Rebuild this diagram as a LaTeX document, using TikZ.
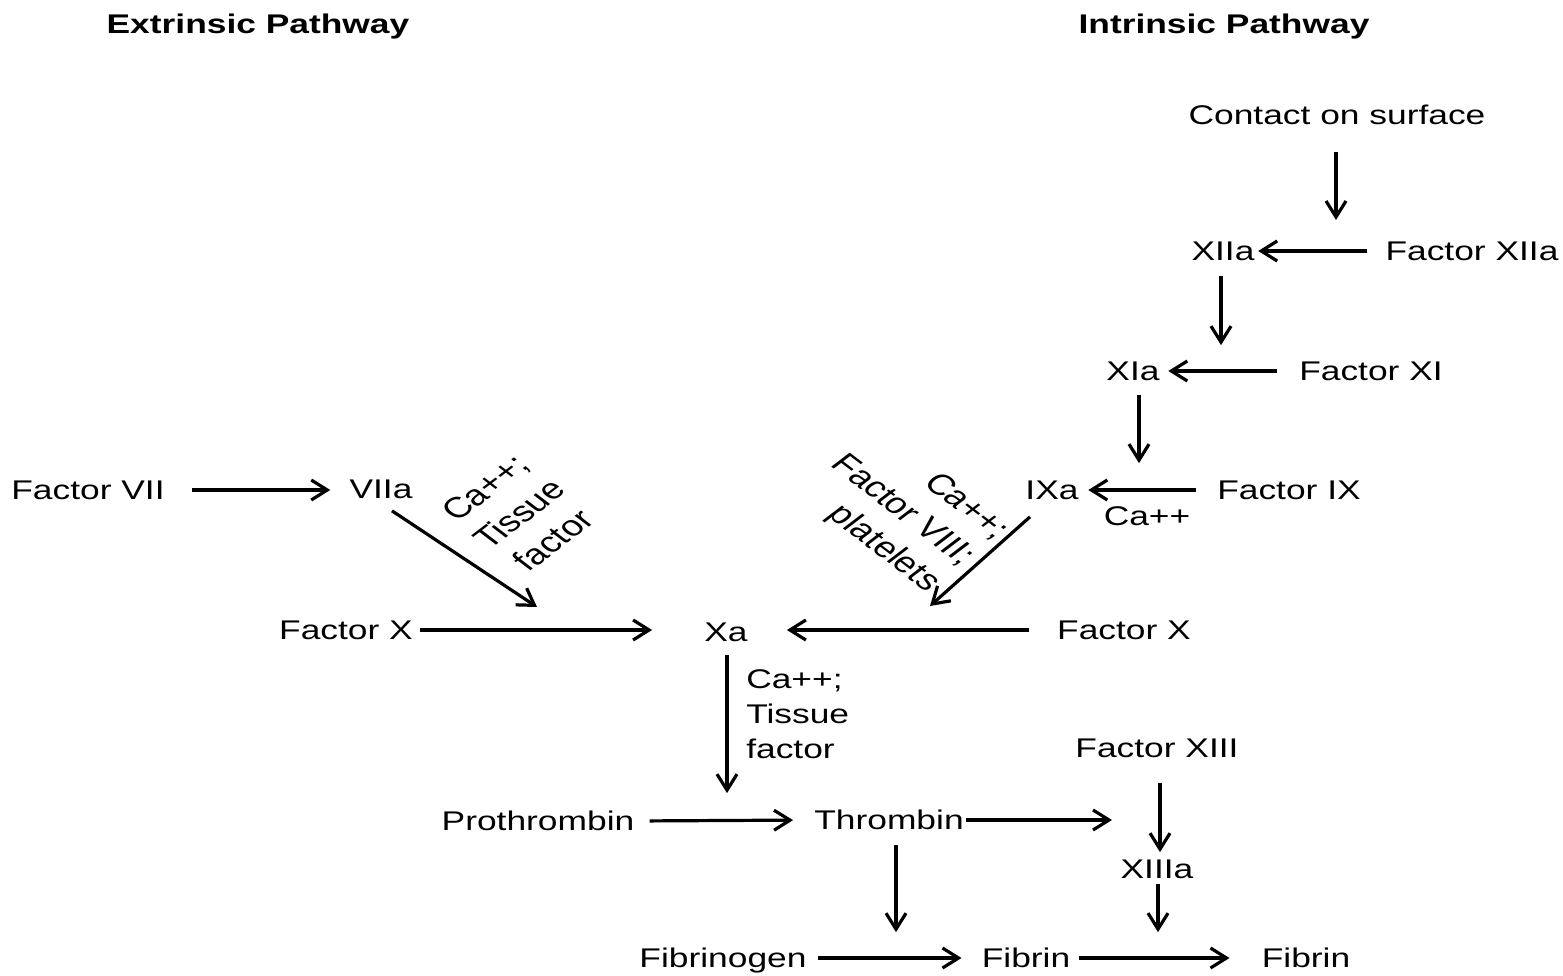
\documentclass[tikz,border=0pt]{standalone}
\usepackage{fontspec}
\setmainfont{Liberation Sans}
\usetikzlibrary{arrows.meta}
\begin{document}
\begin{tikzpicture}[x=1pt,y=-1pt,
  t/.style={font=\fontsize{27}{34}\selectfont, xscale=1.31, inner sep=0pt, text height=19.3pt, text depth=0pt},
  ml/.style={font=\fontsize{27}{35}\selectfont, xscale=1.31, inner sep=0pt},
  rl/.style={font=\fontsize{29}{37}\selectfont, xscale=1.31, inner sep=0pt},
  ttl/.style={t, font=\fontsize{27}{34}\selectfont\bfseries},
  arr/.style={line width=3.2pt, -{Straight Barb[length=16pt,width=20pt]}}]
\useasboundingbox (0,0) rectangle (1563,976);
% titles
\node[ttl] (ttlE) at (258,24) {Extrinsic Pathway};
\node[ttl] (ttlI) at (1224,24) {Intrinsic Pathway};
% intrinsic
\node[t] (contact) at (1337,115) {Contact on surface};
\node[t] (xiia) at (1223,251) {XIIa};
\node[t] (fxiia) at (1472,251) {Factor XIIa};
\node[t] (xia) at (1133,371) {XIa};
\node[t] (fxi) at (1371,371) {Factor XI};
\node[t] (ixa) at (1052,490) {IXa};
\node[t] (fix) at (1289,490) {Factor IX};
\node[t] (ca1) at (1147,516) {Ca++};
% extrinsic
\node[t] (fvii) at (88,490) {Factor VII};
\node[t] (viia) at (381,489) {VIIa};
\node[rl, rotate=45, align=center] (lblL) at (519,514) {Ca++;\\Tissue\\factor};
\node[rl, rotate=-45, align=right] (lblR) at (902,511) {Ca++;\\Factor VIII;\\platelets};
% common
\node[t] (fxl) at (346,630) {Factor X};
\node[t] (xa) at (726,632) {Xa};
\node[t] (fxr) at (1124,630) {Factor X};
\node[ml, anchor=north west, align=left] (lblXa) at (746,669) {Ca++;\\Tissue\\factor};
\node[t] (proth) at (538,821) {Prothrombin};
\node[t] (thr) at (889,820) {Thrombin};
\node[t] (fxiii) at (1157,748) {Factor XIII};
\node[t] (xiiia) at (1157,869) {XIIIa};
\node[t] (fibgen) at (723,958) {Fibrinogen};
\node[t] (fib1) at (1026,958) {Fibrin};
\node[t] (fib2) at (1306,958) {Fibrin};
% free ends
\coordinate (c1) at (1336,220);
\coordinate (d1) at (537,607);
\coordinate (d2) at (930,606);
\coordinate (d4) at (1112,820);
% connectors
\draw[arr, shorten <=27pt] (contact.south -| c1) -- (c1);
\draw[arr, shorten <=18pt, shorten >=3.5pt] (fxiia.west) -- (xiia.east);
\draw[arr, shorten <=15pt, shorten >=16pt] ([xshift=-2pt]xiia.south) -- ([xshift=-2pt]xiia.south |- xia.north);
\draw[arr, shorten <=22pt, shorten >=8.5pt] (fxi.west) -- (xia.east);
\draw[arr, shorten <=14pt, shorten >=17pt] ([xshift=6pt]xia.south) -- ([xshift=6pt]xia.south |- ixa.north);
\draw[arr, shorten <=21pt, shorten >=9.5pt] (fix.west) -- (ixa.east);
\draw[arr] ([xshift=-22pt,yshift=-17pt]ixa.south) -- (d2);
\draw[arr, shorten <=27pt, shorten >=19pt] (fvii.east) -- (viia.west |- fvii.east);
\draw[arr] ([xshift=11pt,yshift=-12pt]viia.south) -- (d1);
\draw[arr, shorten <=7pt, shorten >=52pt] (fxl.east) -- (xa.west |- fxl.east);
\draw[arr, shorten <=28pt, shorten >=39pt] (fxr.west) -- (xa.east |- fxr.west);
\draw[arr, shorten <=13pt, shorten >=18pt] ([xshift=1pt]xa.south) -- ([xshift=1pt]xa.south |- proth.north);
\draw[arr, shorten <=15pt, shorten >=21pt] (proth.east) -- (thr.west);
\draw[arr, shorten <=2pt] (thr.east) -- (d4);
\draw[arr, shorten <=25pt, shorten >=7pt] ([xshift=3pt]fxiii.south) -- ([xshift=3pt]fxiii.south |- xiiia.north);
\draw[arr, shorten <=5pt, shorten >=16pt] ([xshift=1pt]xiiia.south) -- ([xshift=1pt]xiiia.south |- fib1.north);
\draw[arr, shorten <=15pt, shorten >=16pt] ([xshift=7pt]thr.south) -- ([xshift=7pt]thr.south |- fib1.north);
\draw[arr, shorten <=11pt, shorten >=20pt] (fibgen.east) -- (fib1.west);
\draw[arr, shorten <=9pt, shorten >=32pt] (fib1.east) -- (fib2.west);
\end{tikzpicture}
\end{document}
